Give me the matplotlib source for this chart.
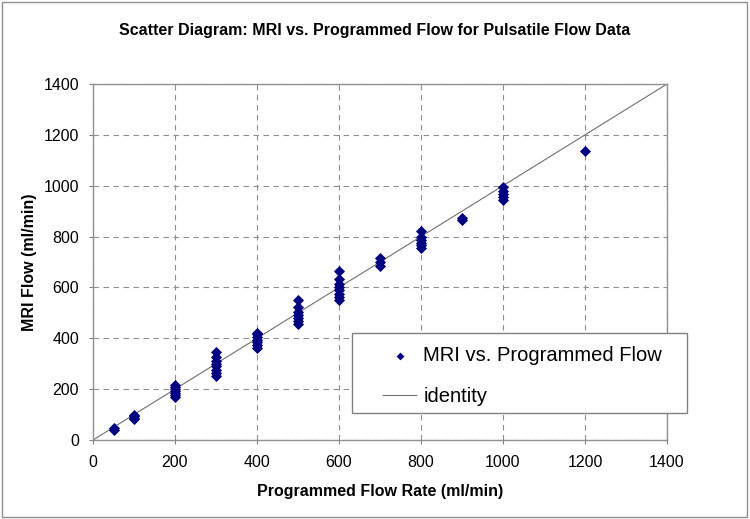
import matplotlib
matplotlib.use("Agg")
import matplotlib.pyplot as plt
from matplotlib.patches import Rectangle

plt.rcParams['font.family'] = ['Liberation Sans', 'DejaVu Sans']

# Data: programmed flow (x) and MRI flow (y)
prog_50 = [50, 50]
mri_50 = [40, 46]
prog_100 = [100] * 4
mri_100 = [82, 88, 93, 98]
prog_200 = [200] * 7
mri_200 = [170, 178, 185, 192, 200, 208, 215]
prog_300 = [300] * 8
mri_300 = [250, 262, 275, 290, 300, 312, 325, 345]
prog_400 = [400] * 7
mri_400 = [360, 372, 385, 395, 405, 415, 422]
prog_500 = [500] * 7
mri_500 = [455, 468, 480, 490, 502, 522, 550]
prog_600 = [600] * 8
mri_600 = [550, 562, 575, 590, 600, 612, 635, 663]
prog_700 = [700] * 3
mri_700 = [685, 700, 715]
prog_800 = [800] * 6
mri_800 = [755, 765, 775, 787, 800, 820]
prog_900 = [900] * 2
mri_900 = [864, 872]
prog_1000 = [1000] * 5
mri_1000 = [945, 955, 967, 980, 995]
prog_1200 = [1200]
mri_1200 = [1138]

programmed = (prog_50 + prog_100 + prog_200 + prog_300 + prog_400 + prog_500 +
              prog_600 + prog_700 + prog_800 + prog_900 + prog_1000 + prog_1200)
mri = (mri_50 + mri_100 + mri_200 + mri_300 + mri_400 + mri_500 +
       mri_600 + mri_700 + mri_800 + mri_900 + mri_1000 + mri_1200)

identity_x = [0, 1400]
identity_y = [0, 1400]
ticks = [0, 200, 400, 600, 800, 1000, 1200, 1400]

fig = plt.figure(figsize=(7.5, 5.19), dpi=100)
ax = fig.add_axes([93/750, (519-440)/519, (667-93)/750, (440-84)/519])

sc = ax.scatter(programmed, mri, marker='D', s=32, color='#000080', zorder=3,
                label='MRI vs. Programmed Flow', linewidths=0)
ln, = ax.plot(identity_x, identity_y, color='#707070', lw=0.8, zorder=2, label='identity')

ax.set_xlim(0, 1400)
ax.set_ylim(0, 1400)
ax.set_xticks(ticks)
ax.set_yticks(ticks)
ax.tick_params(axis='both', labelsize=11.5, colors='#808080', labelcolor='black',
               direction='out', length=3, width=0.8)
ax.tick_params(axis='x', pad=8)
ax.tick_params(axis='y', pad=7)
ax.grid(True, color='#909090', linestyle=(0, (5, 4)), lw=0.8)
ax.set_axisbelow(True)
for s in ax.spines.values():
    s.set_color('#909090')
    s.set_linewidth(1.0)

ax.set_xlabel('Programmed Flow Rate (ml/min)', fontsize=11.5, fontweight='bold', labelpad=10)
ax.set_ylabel('MRI Flow (ml/min)', fontsize=11.5, fontweight='bold', labelpad=5)
fig.text(0.5, (519-30)/519, 'Scatter Diagram: MRI vs. Programmed Flow for Pulsatile Flow Data',
         ha='center', va='center', fontsize=11.5, fontweight='bold')

# legend frame
fig.patches.append(Rectangle((352/750, (519-413)/519), (687-352)/750, (413-333)/519,
                             transform=fig.transFigure, facecolor='white',
                             edgecolor='#808080', lw=1.0, zorder=2))
leg = fig.legend([sc, ln], ['MRI vs. Programmed Flow', 'identity'],
                 loc='upper left', bbox_to_anchor=(383/750, (519-346)/519),
                 bbox_transform=fig.transFigure, fontsize=14.5, frameon=False,
                 borderpad=0, borderaxespad=0, handlelength=1.65, handletextpad=0.35,
                 labelspacing=1.1, markerscale=0.7)
leg.set_zorder(5)

fig.patches.append(Rectangle((2/750, 2/519), 745/750, 515/519, transform=fig.transFigure,
                             fill=False, edgecolor='#909090', lw=1.0))

fig.savefig('out.png', dpi=100)
